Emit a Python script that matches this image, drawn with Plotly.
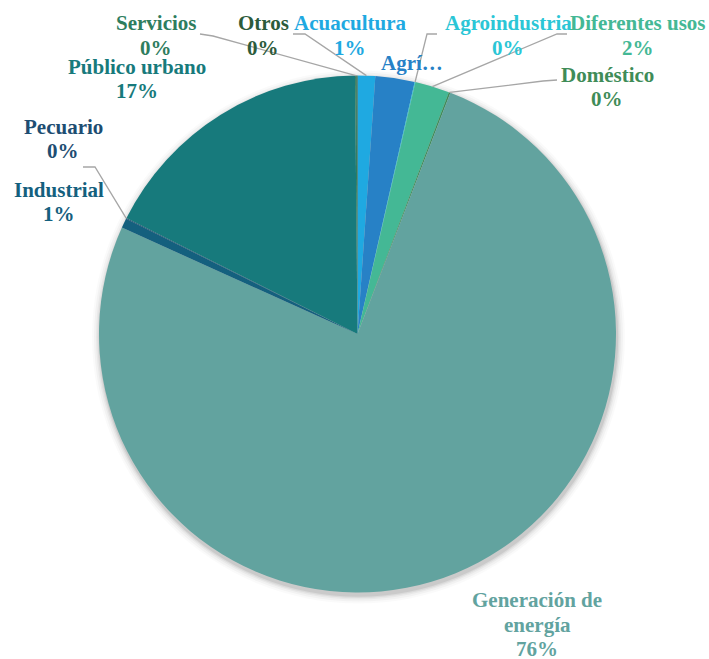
import math
import plotly.graph_objects as go

W, H = 709, 659

# Usos del agua (participación, %), en el orden en que se dibujan las porciones
usos = ["Acuacultura", "Agrícola", "Agroindustria", "Diferentes usos", "Doméstico",
        "Generación de energía", "Industrial", "Pecuario", "Público urbano",
        "Servicios", "Otros"]
valores = [1.1, 2.45, 0.05, 2.15, 0.1, 75.9, 0.6, 0.05, 17.45, 0.1, 0.05]
colores = ["#1FA9E1", "#2781C6", "#2BC6D6", "#44B895", "#3F8C58", "#62A39F",
           "#14607E", "#1D4D72", "#177A7C", "#2E7D5E", "#2C5B3B"]

# Texto de cada etiqueta (líneas del nombre)
etiquetas = {
    "Acuacultura": ["Acuacultura"],
    "Agrícola": ["Agrí…"],
    "Agroindustria": ["Agroindustria"],
    "Diferentes usos": ["Diferentes usos"],
    "Doméstico": ["Doméstico"],
    "Generación de energía": ["Generación de", "energía"],
    "Industrial": ["Industrial"],
    "Pecuario": ["Pecuario"],
    "Público urbano": ["Público urbano"],
    "Servicios": ["Servicios"],
    "Otros": ["Otros"],
}
mostrar_pct = {u: u != "Agrícola" for u in usos}

# Geometría del pastel en píxeles
cx, cy, R = 357.5, 334.0, 258.5

# Posición (centro de la primera línea) de cada etiqueta
pos_etiqueta = {
    "Servicios": (156, 23), "Otros": (263, 23), "Acuacultura": (350, 23),
    "Agrícola": (412, 63), "Agroindustria": (508, 23), "Diferentes usos": (638, 23),
    "Doméstico": (607, 75), "Generación de energía": (537, 600),
    "Industrial": (59, 190), "Pecuario": (63, 127), "Público urbano": (137, 67),
}
# Codo de las líneas guía (inicio, quiebre)
guias = {
    "Servicios": [(200, 34), (213, 36)],
    "Acuacultura": [(293, 34), (305, 34)],
    "Agroindustria": [(437, 34), (427, 34)],
    "Diferentes usos": [(567, 34), (557, 34)],
    "Doméstico": [(557, 80), (543, 81)],
    "Pecuario": [(83, 167), (95, 167)],
}

px = lambda x: x / W
py = lambda y: 1 - y / H

fig = go.Figure()
fig.add_trace(go.Pie(
    labels=usos, values=valores, sort=False, direction="clockwise", rotation=0,
    marker=dict(colors=colores, line=dict(width=0)),
    textinfo="none", hoverinfo="label+percent", showlegend=False,
    domain=dict(x=[px(cx - R), px(cx + R)], y=[py(cy + R), py(cy - R)]),
))

shapes = []
# Sombra suave alrededor del pastel
for k, a in [(8, 0.02), (6, 0.03), (4, 0.04), (2.5, 0.055), (1.2, 0.075)]:
    shapes.append(dict(type="circle", xref="paper", yref="paper", layer="below",
                       x0=px(cx + 1 - R - k), x1=px(cx + 1 + R + k),
                       y0=py(cy + 3 + R + k), y1=py(cy + 3 - R - k),
                       fillcolor=f"rgba(0,0,0,{a})", line=dict(width=0)))

total = sum(valores)
acum = 0.0
anclas = {}
for u, v in zip(usos, valores):
    ang = 2 * math.pi * (acum + v / 2) / total
    anclas[u] = (cx + R * math.sin(ang), cy - R * math.cos(ang))
    acum += v

for u, pts in guias.items():
    ax_, ay_ = anclas[u]
    recorrido = pts + [(ax_, ay_)]
    path = "M " + " L ".join(f"{px(x)},{py(y)}" for x, y in recorrido)
    shapes.append(dict(type="path", xref="paper", yref="paper", path=path,
                       line=dict(color="#A6A6A6", width=1.3)))

annotations = []
paso = 24.5
for u, v, c in zip(usos, valores, colores):
    x0, y0 = pos_etiqueta[u]
    lineas = list(etiquetas[u])
    if mostrar_pct[u]:
        lineas.append(f"{round(v / total * 100):.0f}%")
    for i, t in enumerate(lineas):
        annotations.append(dict(
            x=px(x0), y=py(y0 + i * paso), xref="paper", yref="paper",
            text=f"<b>{t}</b>", showarrow=False, xanchor="center", yanchor="middle",
            font=dict(family="Liberation Serif", size=21, color=c),
        ))

fig.update_layout(
    width=W, height=H, margin=dict(l=0, r=0, t=0, b=0),
    paper_bgcolor="white", plot_bgcolor="white",
    shapes=shapes, annotations=annotations,
)
fig.write_html("out.html")
